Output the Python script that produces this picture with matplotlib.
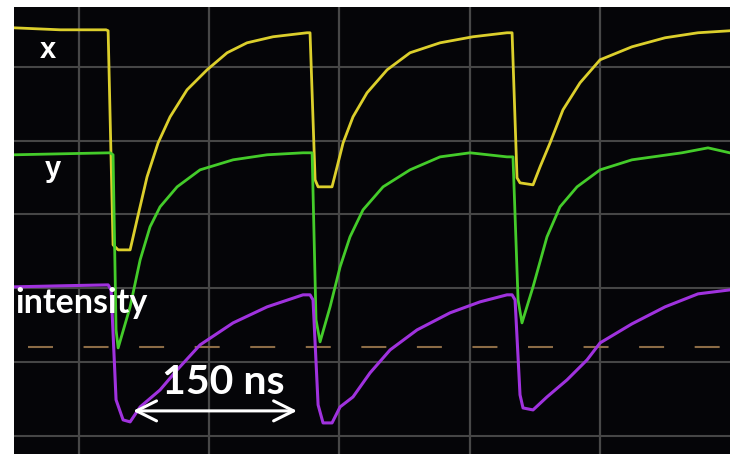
import matplotlib
matplotlib.use("Agg")
import matplotlib.pyplot as plt

# ---- data (oscilloscope screen, in divisions) ----
x_t = [-0.499, -0.146, 0.207, 0.223, 0.261, 0.300, 0.392, 0.445, 0.522, 0.607, 0.699,
       0.829, 0.983, 1.137, 1.290, 1.490, 1.751, 1.774, 1.813, 1.836, 1.943, 1.982,
       2.028, 2.104, 2.212, 2.366, 2.542, 2.773, 3.026, 3.287, 3.326, 3.364, 3.387,
       3.487, 3.541, 3.618, 3.717, 3.848, 4.002, 4.247, 4.501, 4.754, 4.998]
x_v = [5.528, 5.501, 5.501, 5.488, 2.588, 2.520, 2.520, 2.927, 3.509, 3.970, 4.322,
       4.688, 4.959, 5.190, 5.325, 5.407, 5.461, 5.461, 3.469, 3.374, 3.374, 3.645,
       3.970, 4.322, 4.648, 4.959, 5.190, 5.325, 5.407, 5.461, 5.461, 3.496, 3.428,
       3.401, 3.645, 3.970, 4.417, 4.783, 5.095, 5.271, 5.393, 5.461, 5.488]

y_t = [-0.499, -0.146, 0.238, 0.261, 0.284, 0.300, 0.392, 0.469, 0.545, 0.622, 0.753,
       0.929, 1.183, 1.444, 1.720, 1.790, 1.820, 1.851, 1.928, 2.005, 2.081, 2.181,
       2.335, 2.542, 2.773, 3.003, 3.287, 3.333, 3.372, 3.402, 3.487, 3.594, 3.694,
       3.825, 4.002, 4.247, 4.631, 4.831, 4.998]
y_v = [3.808, 3.821, 3.835, 3.808, 1.436, 1.192, 1.748, 2.385, 2.832, 3.103, 3.374,
       3.604, 3.740, 3.808, 3.835, 3.835, 1.572, 1.274, 1.748, 2.290, 2.696, 3.062,
       3.374, 3.604, 3.780, 3.835, 3.780, 3.780, 1.843, 1.531, 2.019, 2.696, 3.103,
       3.374, 3.604, 3.740, 3.835, 3.902, 3.835]

i_t = [-0.499, -0.146, 0.223, 0.246, 0.284, 0.338, 0.392, 0.469, 0.622, 0.753, 0.929,
       1.183, 1.444, 1.720, 1.774, 1.797, 1.836, 1.874, 1.943, 2.005, 2.104, 2.235,
       2.389, 2.596, 2.849, 3.080, 3.287, 3.326, 3.349, 3.387, 3.410, 3.487, 3.594,
       3.748, 3.902, 4.002, 4.247, 4.501, 4.754, 4.998]
i_v = [2.019, 2.033, 2.046, 1.978, 0.488, 0.217, 0.190, 0.393, 0.623, 0.894, 1.233,
       1.531, 1.748, 1.911, 1.911, 1.843, 0.420, 0.176, 0.176, 0.393, 0.528, 0.854,
       1.165, 1.436, 1.667, 1.816, 1.911, 1.911, 1.843, 0.556, 0.379, 0.352, 0.528,
       0.759, 1.030, 1.260, 1.518, 1.748, 1.924, 1.978]

ref_level = 1.206
ref_span = [-0.392, 4.998]
grid_x = [0, 1, 2, 3, 4]
grid_y = [0, 1, 2, 3, 4, 5]
span_start, span_end, span_level = 0.415, 1.674, 0.339
span_label = "150 ns"

plt.rcParams['lines.scale_dashes'] = False
fig = plt.figure(figsize=(7.3, 4.54), dpi=100, facecolor='white')
ax = fig.add_axes([14 / 730, 0, 716 / 730, 447 / 454])
ax.set_facecolor('#050508')
ax.set_xlim(-0.5, 5.0)
ax.set_ylim(-0.245, 5.81)
for s in ax.spines.values():
    s.set_visible(False)
ax.set_xticks([])
ax.set_yticks([])

for gx in grid_x:
    ax.axvline(gx, color='#484848', lw=1.6, zorder=1)
for gy in grid_y:
    ax.axhline(gy, color='#464646', lw=1.5, zorder=1)

ax.plot(ref_span, [ref_level, ref_level], color='#8c6c46', lw=1.5,
        linestyle=(0, (18, 22)), zorder=2)

ax.plot(x_t, x_v, color='#dccf2c', lw=2.0, zorder=3, solid_joinstyle='round')
ax.plot(y_t, y_v, color='#44cc2a', lw=2.0, zorder=3, solid_joinstyle='round')
ax.plot(i_t, i_v, color='#a032de', lw=2.2, zorder=3, solid_joinstyle='round')

ax.text(-0.300, 5.122, 'x', color='white', fontsize=21, fontweight='bold',
        family='Liberation Sans', ha='left', va='baseline', zorder=5)
ax.text(-0.261, 3.509, 'y', color='white', fontsize=21, fontweight='bold',
        family='Liberation Sans', ha='left', va='baseline', zorder=5)
ax.text(-0.492, 1.667, 'intensity', color='white', fontsize=24.5, fontweight='bold',
        family='Lato', ha='left', va='baseline', zorder=5)
ax.text(0.640, 0.569, span_label, color='white', fontsize=29.5, fontweight='bold',
        family='Lato', ha='left', va='baseline', zorder=5)
ax.annotate('', xy=(span_end, span_level), xytext=(span_start, span_level),
            arrowprops=dict(arrowstyle='<->,head_length=0.72,head_width=0.36',
                            mutation_scale=20, color='white', lw=2.2,
                            shrinkA=0, shrinkB=0), zorder=5)

fig.savefig('out.png', dpi=100, facecolor='white')
